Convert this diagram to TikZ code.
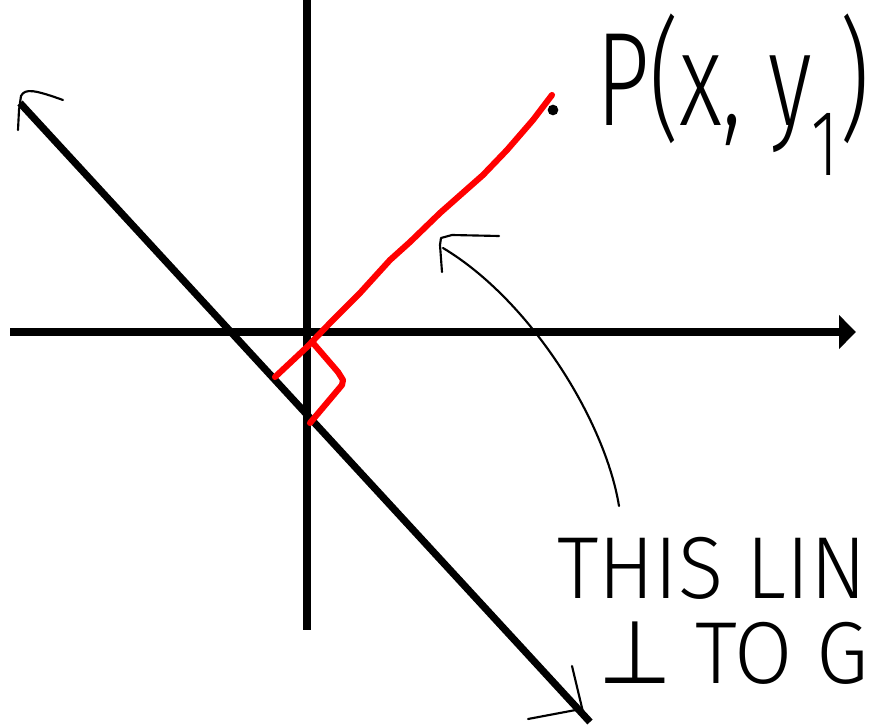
\documentclass[tikz,border=0pt]{standalone}
\usepackage{fontspec}
\IfFontExistsTF{Fira Sans Light}{\newfontfamily\handfont{Fira Sans Light}}{%
  \IfFontExistsTF{Fira Sans ExtraLight}{\newfontfamily\handfont{Fira Sans ExtraLight}}{%
    \newfontfamily\handfont{Fira Sans}}}
\newfontfamily\symfont{DejaVu Sans}
\usetikzlibrary{arrows.meta}
\tikzstyle{axisline} = [line width=5.4pt]
\tikzstyle{hand} = [line width=1.6pt, line cap=round, line join=round]
\tikzstyle{redline} = [red, line width=4.6pt, line cap=round, line join=round]
\tikzstyle{handtext} = [anchor=base west, inner sep=0pt, transform shape]

\begin{document}
\begin{tikzpicture}[x=0.75pt, y=-0.75pt]
\useasboundingbox (0,0) rectangle (879,728);
\clip (0,0) rectangle (879,728);

% axes
\coordinate (ytop) at (307,0);
\coordinate (ybot) at (307,630);
\coordinate (xleft) at (10,332);
\coordinate (xright) at (856,332);
\draw[axisline] (ytop) -- (ybot);
\draw[axisline, -{Triangle[length=12.75pt, width=24.75pt]}] (xleft) -- (xright);

% the given line, with hand drawn heads
\coordinate (lineA) at (20,103);
\coordinate (lineB) at (590,722);
\draw[axisline] (lineA) -- (lineB);
\draw[hand] (18,130) -- (19,110) -- (21,96) .. controls (25,88) and (35,90) .. (63,100);
\draw[hand] (572,666) -- (583,712);
\draw[hand] (528,719) -- (581,709);

% perpendicular from P
\node[circle, fill=black, inner sep=0pt, minimum size=8pt] (pdot) at (553,110) {};
\coordinate (foot) at (275,377);
\draw[redline] (foot) -- (307,347) -- (330,323) -- (360,293) -- (390,260) -- (410,242)
  -- (440,213) -- (483,175) -- (507,150) -- (533,120) -- (552,95);
\draw[redline] (313,343) -- (338,372) -- (343,380) -- (342,385) -- (310,423);

% labels
\node[handtext, xscale=0.7, font=\handfont\fontsize{100}{100}\selectfont] (plabel) at (596,125) {P(x, y\textsubscript{1})};
\node[handtext, xscale=0.95, font=\handfont\fontsize{66}{66}\selectfont] (noteA) at (557,598) {THIS LIN};
\node[handtext, xscale=0.96, font=\handfont\fontsize{66}{66}\selectfont] (noteB) at (598,683) {{\symfont ⊥} TO G};

% pointer to the red line
\coordinate (noteTail) at (619,506);
\coordinate (noteTip) at (443,248);
\draw[hand] (noteTail) .. controls (605,420) and (530,300) .. (noteTip);
\draw[hand] (442,272) -- (440,245) -- (441,238) -- (452,235) -- (499,236);
\end{tikzpicture}
\end{document}
